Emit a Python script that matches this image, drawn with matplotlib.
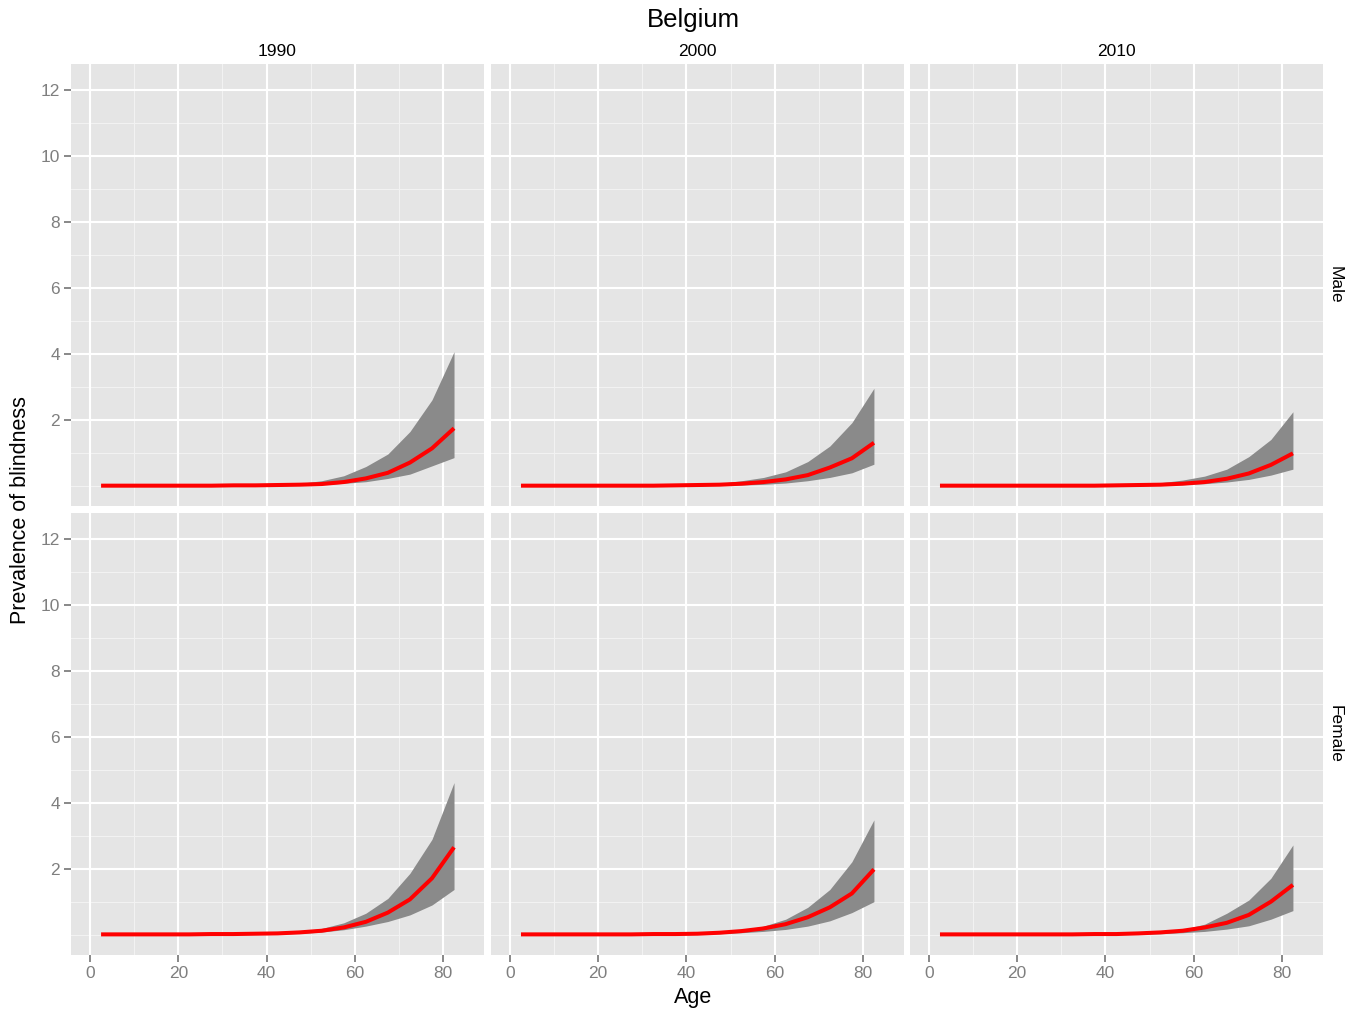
import matplotlib
matplotlib.use("Agg")
import matplotlib.pyplot as plt
import numpy as np

plt.rcParams['font.family'] = ['Liberation Sans', 'DejaVu Sans']

ages = [2.5, 7.5, 12.5, 17.5, 22.5, 27.5, 32.5, 37.5, 42.5,
        47.5, 52.5, 57.5, 62.5, 67.5, 72.5, 77.5, 82.5]
years = ["1990", "2000", "2010"]
sexes = ["Male", "Female"]

male_1990_mean = [0.01, 0.01, 0.01, 0.01, 0.01, 0.01, 0.02, 0.02, 0.03, 0.04, 0.06, 0.12, 0.23, 0.40, 0.71, 1.14, 1.75]
male_1990_upper = [0.01, 0.01, 0.01, 0.02, 0.02, 0.02, 0.03, 0.04, 0.05, 0.08, 0.16, 0.31, 0.59, 0.97, 1.65, 2.61, 4.07]
male_1990_lower = [0.00, 0.00, 0.00, 0.00, 0.01, 0.01, 0.01, 0.01, 0.01, 0.02, 0.04, 0.08, 0.13, 0.23, 0.36, 0.61, 0.86]

male_2000_mean = [0.01, 0.01, 0.01, 0.01, 0.01, 0.01, 0.01, 0.02, 0.03, 0.04, 0.07, 0.12, 0.20, 0.33, 0.56, 0.84, 1.31]
male_2000_upper = [0.01, 0.01, 0.01, 0.01, 0.02, 0.02, 0.03, 0.03, 0.05, 0.08, 0.16, 0.26, 0.43, 0.74, 1.21, 1.92, 2.96]
male_2000_lower = [0.00, 0.00, 0.00, 0.00, 0.00, 0.01, 0.01, 0.01, 0.01, 0.02, 0.03, 0.05, 0.09, 0.16, 0.26, 0.40, 0.66]

male_2010_mean = [0.01, 0.01, 0.01, 0.01, 0.01, 0.01, 0.01, 0.01, 0.02, 0.03, 0.04, 0.07, 0.12, 0.22, 0.38, 0.64, 0.99]
male_2010_upper = [0.01, 0.01, 0.01, 0.01, 0.01, 0.02, 0.02, 0.03, 0.04, 0.06, 0.10, 0.18, 0.30, 0.51, 0.89, 1.41, 2.25]
male_2010_lower = [0.00, 0.00, 0.00, 0.00, 0.00, 0.00, 0.01, 0.01, 0.01, 0.01, 0.02, 0.04, 0.07, 0.12, 0.20, 0.33, 0.51]

female_1990_mean = [0.01, 0.01, 0.01, 0.01, 0.01, 0.02, 0.02, 0.03, 0.04, 0.07, 0.12, 0.22, 0.39, 0.67, 1.07, 1.71, 2.65]
female_1990_upper = [0.01, 0.01, 0.01, 0.02, 0.02, 0.03, 0.04, 0.05, 0.07, 0.10, 0.19, 0.36, 0.65, 1.10, 1.86, 2.89, 4.61]
female_1990_lower = [0.00, 0.00, 0.00, 0.00, 0.01, 0.01, 0.01, 0.01, 0.02, 0.04, 0.08, 0.15, 0.26, 0.40, 0.60, 0.90, 1.37]

female_2000_mean = [0.01, 0.01, 0.01, 0.01, 0.01, 0.01, 0.02, 0.02, 0.03, 0.06, 0.11, 0.19, 0.32, 0.53, 0.83, 1.25, 1.98]
female_2000_upper = [0.01, 0.01, 0.01, 0.01, 0.02, 0.02, 0.03, 0.04, 0.05, 0.08, 0.14, 0.26, 0.47, 0.83, 1.37, 2.21, 3.48]
female_2000_lower = [0.00, 0.00, 0.00, 0.00, 0.00, 0.01, 0.01, 0.01, 0.02, 0.03, 0.06, 0.10, 0.16, 0.26, 0.42, 0.67, 1.00]

female_2010_mean = [0.01, 0.01, 0.01, 0.01, 0.01, 0.01, 0.01, 0.02, 0.02, 0.04, 0.07, 0.12, 0.22, 0.36, 0.60, 1.00, 1.51]
female_2010_upper = [0.01, 0.01, 0.01, 0.01, 0.01, 0.02, 0.02, 0.03, 0.04, 0.05, 0.09, 0.16, 0.32, 0.65, 1.05, 1.71, 2.72]
female_2010_lower = [0.00, 0.00, 0.00, 0.00, 0.00, 0.00, 0.01, 0.01, 0.01, 0.02, 0.03, 0.06, 0.10, 0.17, 0.27, 0.47, 0.73]

panels = {
    ("Male", "1990"): (male_1990_mean, male_1990_lower, male_1990_upper),
    ("Male", "2000"): (male_2000_mean, male_2000_lower, male_2000_upper),
    ("Male", "2010"): (male_2010_mean, male_2010_lower, male_2010_upper),
    ("Female", "1990"): (female_1990_mean, female_1990_lower, female_1990_upper),
    ("Female", "2000"): (female_2000_mean, female_2000_lower, female_2000_upper),
    ("Female", "2010"): (female_2010_mean, female_2010_lower, female_2010_upper),
}

W, H = 1354, 1017
fig = plt.figure(figsize=(W / 100, H / 100), dpi=100)


def box(x, y, w, h):
    # pixel box (top-left origin) -> figure fraction
    return [x / W, 1 - (y + h) / H, w / W, h / H]


col_x = [71.3, 491.2, 910.2]
row_y = [64, 512.7]
pw, ph = 412.5, 442

for r, sex in enumerate(sexes):
    for c, yr in enumerate(years):
        ax = fig.add_axes(box(col_x[c], row_y[r], pw, ph))
        mean, lower, upper = panels[(sex, yr)]
        ax.set_facecolor('#E5E5E5')
        for v in [0, 1, 3, 5, 7, 9, 11]:
            ax.axhline(v, color='#F2F2F2', lw=0.8, zorder=0)
        for v in [10, 30, 50, 70]:
            ax.axvline(v, color='#F2F2F2', lw=0.8, zorder=0)
        for v in [2, 4, 6, 8, 10, 12]:
            ax.axhline(v, color='white', lw=1.5, zorder=0)
        for v in [0, 20, 40, 60, 80]:
            ax.axvline(v, color='white', lw=1.5, zorder=0)
        ax.fill_between(ages, lower, upper, color='#8A8A8A', lw=0, zorder=2)
        ax.plot(ages, mean, color='red', lw=2.9, zorder=3, solid_capstyle='butt')
        ax.set_xlim(-4.25, 89.25)
        ax.set_ylim(-0.606, 12.79)
        ax.set_xticks([0, 20, 40, 60, 80])
        ax.set_yticks([2, 4, 6, 8, 10, 12])
        for s in ax.spines.values():
            s.set_visible(False)
        ax.tick_params(colors='#7F7F7F', length=5, width=1.3, labelsize=12.5,
                       labelcolor='#7F7F7F', pad=3)
        if c > 0:
            ax.tick_params(axis='y', left=False, labelleft=False)
        if r == 0:
            ax.tick_params(axis='x', bottom=False, labelbottom=False)
            fig.text((col_x[c] + pw / 2) / W, 1 - 52 / H, yr, ha='center',
                     va='center', fontsize=12.5)
        if c == 2:
            fig.text(1335 / W, 1 - (row_y[r] + ph / 2) / H, sex, ha='center',
                     va='center', rotation=-90, fontsize=12.5)

fig.text(693 / W, 1 - 20 / H, "Belgium", ha='center', va='center', fontsize=18.5)
fig.text(693 / W, 1 - 998 / H, "Age", ha='center', va='center', fontsize=15.5)
fig.text(21 / W, 1 - 510 / H, "Prevalence of blindness", ha='center',
         va='center', rotation=90, fontsize=15.5)

fig.savefig("out.png", dpi=100)
